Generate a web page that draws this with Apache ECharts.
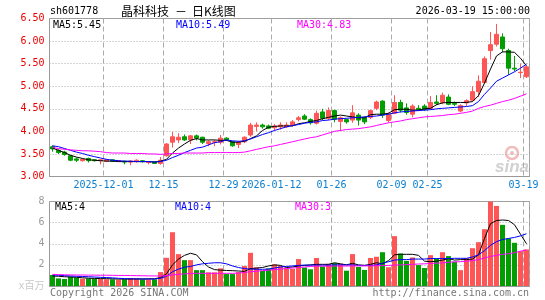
<!DOCTYPE html>
<html>
<head>
<meta charset="utf-8">
<title>晶科科技 日K线图</title>
<script src="https://cdn.jsdelivr.net/npm/echarts@6/dist/echarts.min.js"></script>
<style>
  html, body { margin: 0; padding: 0; background: #fff; }
  #chart { width: 545px; height: 300px; }
</style>
</head>
<body>
<div id="chart"></div>
<script>
// 交易日
const dates = [
  '2025-11-18', '2025-11-19', '2025-11-20', '2025-11-21', '2025-11-24', '2025-11-25', '2025-11-26', '2025-11-27', '2025-11-28',
  '2025-12-01', '2025-12-02', '2025-12-03', '2025-12-04', '2025-12-05', '2025-12-08', '2025-12-09', '2025-12-10', '2025-12-11', '2025-12-12',
  '2025-12-15', '2025-12-16', '2025-12-17', '2025-12-18', '2025-12-19', '2025-12-22', '2025-12-23', '2025-12-24', '2025-12-25', '2025-12-26',
  '2025-12-29', '2025-12-30', '2025-12-31',
  '2026-01-05', '2026-01-06', '2026-01-07', '2026-01-08', '2026-01-09',
  '2026-01-12', '2026-01-13', '2026-01-14', '2026-01-15', '2026-01-16',
  '2026-01-19', '2026-01-20', '2026-01-21', '2026-01-22', '2026-01-23',
  '2026-01-26', '2026-01-27', '2026-01-28', '2026-01-29', '2026-01-30',
  '2026-02-02', '2026-02-03', '2026-02-04', '2026-02-05', '2026-02-06',
  '2026-02-09', '2026-02-10', '2026-02-11', '2026-02-12', '2026-02-13',
  '2026-02-24', '2026-02-25', '2026-02-26', '2026-02-27',
  '2026-03-02', '2026-03-03', '2026-03-04', '2026-03-05', '2026-03-06',
  '2026-03-09', '2026-03-10', '2026-03-11', '2026-03-12', '2026-03-13',
  '2026-03-16', '2026-03-17', '2026-03-18', '2026-03-19'
]

// 日K：开盘 / 收盘 / 最低 / 最高
const openPrice = [
  3.66, 3.58, 3.54, 3.46, 3.39, 3.35, 3.40, 3.37, 3.35, 3.34,
  3.37, 3.34, 3.34, 3.32, 3.33, 3.35, 3.31, 3.32, 3.29, 3.46,
  3.76, 3.81, 3.88, 3.81, 3.90, 3.87, 3.73, 3.76, 3.76, 3.85,
  3.77, 3.71, 3.77, 3.92, 4.11, 4.14, 4.12, 4.08, 4.10, 4.10,
  4.14, 4.26, 4.34, 4.26, 4.18, 4.43, 4.29, 4.46, 4.22, 4.26,
  4.25, 4.36, 4.31, 4.31, 4.51, 4.67, 4.24, 4.40, 4.64, 4.52,
  4.38, 4.51, 4.56, 4.51, 4.65, 4.64, 4.76, 4.62, 4.45, 4.63,
  4.69, 4.88, 5.08, 5.79, 5.93, 6.09, 5.79, 5.40, 5.30, 5.21
]
const closePrice = [
  3.61, 3.53, 3.49, 3.36, 3.36, 3.38, 3.35, 3.35, 3.37, 3.37,
  3.34, 3.35, 3.32, 3.34, 3.36, 3.33, 3.33, 3.29, 3.36, 3.72,
  3.88, 3.87, 3.81, 3.90, 3.85, 3.76, 3.77, 3.77, 3.85, 3.81,
  3.68, 3.76, 3.87, 4.14, 4.14, 4.10, 4.07, 4.12, 4.14, 4.14,
  4.21, 4.30, 4.27, 4.19, 4.40, 4.29, 4.46, 4.27, 4.30, 4.21,
  4.41, 4.25, 4.21, 4.46, 4.65, 4.36, 4.38, 4.64, 4.47, 4.42,
  4.56, 4.48, 4.48, 4.64, 4.62, 4.80, 4.60, 4.60, 4.57, 4.68,
  4.88, 5.11, 5.61, 5.92, 6.15, 5.83, 5.40, 5.38, 5.31, 5.43
]
const lowPrice = [
  3.55, 3.50, 3.46, 3.34, 3.32, 3.33, 3.31, 3.33, 3.27, 3.32,
  3.32, 3.32, 3.27, 3.25, 3.31, 3.31, 3.27, 3.28, 3.26, 3.44,
  3.64, 3.74, 3.79, 3.72, 3.80, 3.72, 3.67, 3.67, 3.71, 3.79,
  3.66, 3.63, 3.74, 3.88, 4.00, 4.06, 4.05, 4.02, 4.04, 4.08,
  4.11, 4.22, 4.25, 4.15, 4.15, 4.25, 4.25, 4.20, 4.01, 4.17,
  4.19, 4.13, 4.16, 4.27, 4.47, 4.30, 4.20, 4.38, 4.42, 4.37,
  4.31, 4.45, 4.45, 4.48, 4.58, 4.60, 4.58, 4.56, 4.42, 4.56,
  4.66, 4.76, 5.06, 5.59, 5.88, 5.75, 5.25, 5.33, 5.18, 5.18
]
const highPrice = [
  3.69, 3.60, 3.57, 3.47, 3.42, 3.40, 3.42, 3.38, 3.38, 3.39,
  3.38, 3.36, 3.35, 3.36, 3.38, 3.36, 3.34, 3.33, 3.43, 3.74,
  3.99, 3.96, 3.93, 3.92, 3.93, 3.88, 3.80, 3.81, 3.92, 3.87,
  3.78, 3.79, 3.89, 4.19, 4.20, 4.17, 4.15, 4.16, 4.20, 4.20,
  4.25, 4.34, 4.38, 4.29, 4.46, 4.50, 4.53, 4.48, 4.33, 4.28,
  4.58, 4.40, 4.33, 4.48, 4.68, 4.69, 4.42, 4.80, 4.70, 4.62,
  4.60, 4.58, 4.60, 4.78, 4.80, 4.86, 4.82, 4.66, 4.60, 4.71,
  5.00, 5.24, 5.66, 6.20, 6.38, 6.17, 5.83, 5.67, 5.50, 5.45
]

// 均线（价格）
const ma5 = [
  3.63, 3.58, 3.53, 3.47, 3.43, 3.40, 3.37, 3.36, 3.35, 3.34,
  3.34, 3.33, 3.33, 3.33, 3.33, 3.33, 3.33, 3.32, 3.34, 3.38,
  3.52, 3.63, 3.72, 3.80, 3.84, 3.81, 3.81, 3.81, 3.80, 3.80,
  3.76, 3.76, 3.78, 3.84, 3.90, 4.02, 4.09, 4.11, 4.12, 4.12,
  4.12, 4.17, 4.19, 4.22, 4.24, 4.28, 4.31, 4.34, 4.36, 4.34,
  4.32, 4.30, 4.30, 4.37, 4.38, 4.38, 4.40, 4.48, 4.49, 4.49,
  4.47, 4.47, 4.50, 4.51, 4.59, 4.63, 4.64, 4.64, 4.64, 4.64,
  4.66, 4.79, 5.07, 5.38, 5.67, 5.76, 5.76, 5.75, 5.62, 5.45
]
const ma10 = [
  3.68, 3.66, 3.62, 3.58, 3.54, 3.51, 3.47, 3.44, 3.41, 3.38,
  3.36, 3.35, 3.34, 3.34, 3.33, 3.33, 3.33, 3.32, 3.33, 3.36,
  3.42, 3.47, 3.53, 3.58, 3.63, 3.65, 3.70, 3.75, 3.77, 3.81,
  3.79, 3.78, 3.79, 3.83, 3.88, 3.93, 3.97, 4.02, 4.06, 4.10,
  4.13, 4.15, 4.18, 4.20, 4.21, 4.24, 4.25, 4.27, 4.28, 4.29,
  4.30, 4.31, 4.32, 4.33, 4.34, 4.36, 4.38, 4.41, 4.43, 4.44,
  4.45, 4.46, 4.47, 4.48, 4.50, 4.51, 4.52, 4.53, 4.54, 4.55,
  4.57, 4.66, 4.82, 4.96, 5.11, 5.18, 5.25, 5.32, 5.40, 5.49
]
const ma30 = [
  3.64, 3.62, 3.60, 3.59, 3.58, 3.57, 3.57, 3.56, 3.55, 3.53,
  3.52, 3.52, 3.52, 3.51, 3.51, 3.51, 3.50, 3.50, 3.49, 3.50,
  3.51, 3.51, 3.52, 3.52, 3.52, 3.52, 3.53, 3.53, 3.53, 3.53,
  3.53, 3.53, 3.54, 3.57, 3.60, 3.63, 3.66, 3.68, 3.71, 3.74,
  3.77, 3.80, 3.83, 3.86, 3.88, 3.92, 3.96, 4.00, 4.02, 4.04,
  4.05, 4.06, 4.08, 4.10, 4.13, 4.16, 4.19, 4.21, 4.23, 4.26,
  4.28, 4.30, 4.32, 4.33, 4.34, 4.35, 4.37, 4.38, 4.40, 4.42,
  4.45, 4.51, 4.55, 4.58, 4.62, 4.66, 4.69, 4.73, 4.78, 4.83
]

// 成交量（百万股）
const volume = [
  1.04, 0.72, 0.66, 0.88, 0.79, 0.69, 0.72, 0.69, 0.66, 0.63,
  0.63, 0.60, 0.63, 0.75, 0.69, 0.63, 0.63, 0.63, 1.32, 2.67,
  5.09, 3.02, 2.45, 2.45, 1.50, 1.50, 1.29, 1.29, 1.67, 1.13,
  1.13, 1.32, 1.89, 3.14, 1.76, 1.45, 1.67, 2.04, 1.89, 1.67,
  1.62, 2.55, 1.75, 1.58, 2.65, 1.85, 2.10, 2.17, 2.10, 1.45,
  3.02, 1.80, 1.52, 2.65, 2.77, 3.20, 1.78, 4.72, 3.08, 2.38,
  2.70, 1.98, 1.70, 2.92, 2.61, 3.20, 2.83, 2.30, 1.50, 2.64,
  3.58, 4.15, 5.38, 7.99, 7.58, 5.79, 4.50, 4.09, 3.30, 3.46
]
const volMa5 = [
  0.95, 0.92, 0.88, 0.85, 0.82, 0.78, 0.74, 0.72, 0.70, 0.69,
  0.68, 0.66, 0.65, 0.66, 0.67, 0.67, 0.68, 0.69, 0.79, 1.15,
  2.00, 2.55, 2.90, 3.10, 2.95, 2.30, 1.80, 1.55, 1.50, 1.47,
  1.45, 1.42, 1.38, 1.65, 1.70, 1.75, 1.90, 2.00, 1.95, 1.75,
  1.80, 1.90, 1.95, 2.00, 2.05, 2.05, 2.05, 2.20, 2.10, 2.00,
  2.15, 2.00, 1.95, 2.05, 2.20, 2.10, 2.40, 2.95, 3.00, 3.00,
  3.00, 2.90, 2.35, 2.30, 2.35, 2.45, 2.60, 2.45, 2.50, 2.50,
  2.55, 2.95, 4.50, 5.90, 6.20, 6.25, 6.20, 5.80, 4.90, 4.00
]
const volMa10 = [
  1.05, 1.02, 0.98, 0.95, 0.92, 0.90, 0.88, 0.85, 0.82, 0.80,
  0.77, 0.73, 0.70, 0.68, 0.67, 0.66, 0.66, 0.66, 0.73, 0.92,
  1.35, 1.60, 1.78, 1.85, 2.00, 2.10, 2.15, 2.20, 2.20, 2.10,
  1.90, 1.75, 1.65, 1.60, 1.58, 1.58, 1.60, 1.70, 1.80, 1.85,
  1.90, 1.95, 1.98, 1.98, 1.98, 1.98, 1.98, 2.00, 2.00, 2.00,
  2.00, 1.95, 1.95, 1.95, 2.00, 2.15, 2.30, 2.45, 2.50, 2.50,
  2.55, 2.55, 2.55, 2.60, 2.60, 2.60, 2.60, 2.62, 2.62, 2.62,
  2.75, 2.95, 3.35, 3.85, 4.20, 4.40, 4.50, 4.60, 4.75, 4.95
]
const volMa30 = [
  1.10, 1.08, 1.06, 1.05, 1.04, 1.04, 1.03, 1.03, 1.02, 1.02,
  1.01, 1.00, 1.00, 0.99, 0.98, 0.97, 0.96, 0.95, 0.95, 0.97,
  1.05, 1.10, 1.15, 1.18, 1.20, 1.20, 1.20, 1.20, 1.20, 1.20,
  1.20, 1.22, 1.28, 1.35, 1.40, 1.45, 1.50, 1.55, 1.60, 1.65,
  1.70, 1.75, 1.80, 1.85, 1.88, 1.88, 1.88, 1.89, 1.89, 1.89,
  1.90, 1.90, 1.90, 1.91, 1.92, 1.93, 1.95, 1.98, 2.00, 2.02,
  2.05, 2.08, 2.10, 2.13, 2.16, 2.19, 2.25, 2.28, 2.30, 2.35,
  2.40, 2.50, 2.65, 2.80, 2.90, 3.00, 3.05, 3.15, 3.30, 3.40
]

// 横轴刻度
const tickDates = ['2025-12-01', '2025-12-15', '2025-12-29', '2026-01-12', '2026-01-26', '2026-02-09', '2026-02-25', '2026-03-19']
const tickLabels = ['2025-12-01', '12-15', '12-29', '2026-01-12', '01-26', '02-09', '02-25', '03-19']

const MONO = "'DejaVu Sans Mono', 'Noto Sans CJK SC', monospace"
const CJK = "'Noto Sans CJK SC', sans-serif"
const UP = '#ff5555'
const DOWN = '#009e00'
const GRID_LEFT = 49.5
const GRID_WIDTH = 480

const isTick = (index) => tickDates.includes(dates[index])

function maLine(name, data, color, xi) {
  return {
    name,
    type: 'line',
    xAxisIndex: xi,
    yAxisIndex: xi,
    data,
    showSymbol: false,
    silent: true,
    lineStyle: { color, width: 1 },
    z: 5
  }
}

function xAxisFor(gridIndex, withLabel) {
  return {
    type: 'category',
    gridIndex,
    data: dates,
    boundaryGap: true,
    axisLine: { lineStyle: { color: '#999' } },
    axisTick: { show: false },
    axisLabel: {
      show: withLabel,
      interval: isTick,
      formatter: (v) => tickLabels[tickDates.indexOf(v)],
      color: '#0a7fd0',
      fontFamily: MONO,
      fontSize: 10,
      margin: 4,
      padding: [0, 6, 0, 0]
    },
    splitLine: {
      show: true,
      interval: isTick,
      lineStyle: { color: '#aaa', type: [5, 3], width: 1 }
    }
  }
}

function text(str, x, y, fill, extra) {
  return {
    type: 'text',
    silent: true,
    style: Object.assign({
      text: str,
      x,
      y,
      fill,
      font: '10px ' + MONO,
      verticalAlign: 'middle'
    }, extra || {})
  }
}

function buildOption() {
  const candles = dates.map((d, i) => [openPrice[i], closePrice[i], lowPrice[i], highPrice[i]])
  const volBars = volume.map((v, i) => ({
    value: v,
    itemStyle: { color: closePrice[i] >= openPrice[i] ? UP : DOWN }
  }))
  const last = dates.length - 1

  return {
    animation: false,
    backgroundColor: '#fff',
    grid: [
      { left: GRID_LEFT, top: 18.5, width: GRID_WIDTH, height: 158, show: true, borderColor: '#999', borderWidth: 1 },
      { left: GRID_LEFT, top: 201.5, width: GRID_WIDTH, height: 84.5, show: true, borderColor: '#999', borderWidth: 1 }
    ],
    xAxis: [xAxisFor(0, true), xAxisFor(1, false)],
    yAxis: [
      {
        type: 'value',
        gridIndex: 0,
        min: 3,
        max: 6.5,
        interval: 0.5,
        axisLine: { show: false },
        axisTick: { show: false },
        axisLabel: {
          color: '#ee0000',
          fontFamily: MONO,
          fontSize: 10,
          margin: 5,
          formatter: (v) => v.toFixed(2)
        },
        splitLine: { lineStyle: { color: '#aaa', type: [1, 2] } }
      },
      {
        type: 'value',
        gridIndex: 1,
        min: 0,
        max: 8,
        interval: 2,
        axisLine: { show: false },
        axisTick: { show: false },
        axisLabel: {
          color: '#999',
          fontFamily: MONO,
          fontSize: 10,
          margin: 5,
          formatter: (v) => (v === 0 ? '{u|x百万}' : String(v)),
          rich: { u: { color: '#c8c8c8', fontFamily: MONO, fontSize: 10 } }
        },
        splitLine: { lineStyle: { color: '#aaa', type: [1, 2] } }
      }
    ],
    series: [
      {
        name: '日K',
        type: 'candlestick',
        xAxisIndex: 0,
        yAxisIndex: 0,
        data: candles,
        barWidth: 5,
        itemStyle: {
          color: UP,
          color0: DOWN,
          borderColor: UP,
          borderColor0: DOWN,
          borderWidth: 1
        }
      },
      maLine('MA5', ma5, '#000', 0),
      maLine('MA10', ma10, '#0000ff', 0),
      maLine('MA30', ma30, '#ff00ff', 0),
      {
        name: '成交量',
        type: 'bar',
        xAxisIndex: 1,
        yAxisIndex: 1,
        data: volBars,
        barWidth: 5
      },
      maLine('VMA5', volMa5, '#000', 1),
      maLine('VMA10', volMa10, '#0000ff', 1),
      maLine('VMA30', volMa30, '#ff00ff', 1)
    ],
    graphic: [
      text('sh601778', 50, 11, '#000'),
      text('晶科科技', 121, 11, '#000', { font: '12px ' + CJK }),
      text('－', 175, 11, '#000', { font: '12px ' + CJK }),
      text('日K线图', 192, 11, '#000', { font: '12px ' + CJK }),
      text('2026-03-19 15:00:00', 530, 11, '#000', { align: 'right' }),
      text('MA5:' + ma5[last].toFixed(2), 53, 25, '#000'),
      text('MA10:' + ma10[last].toFixed(2), 176, 25, '#0000ff'),
      text('MA30:' + ma30[last].toFixed(2), 297, 25, '#ff00ff'),
      text('MA5:' + Math.floor(volMa5[last]), 55, 207, '#000'),
      text('MA10:' + Math.floor(volMa10[last]), 175, 207, '#0000ff'),
      text('MA30:' + Math.floor(volMa30[last]), 295, 207, '#ff00ff'),
      text('Copyright 2026 SINA.COM', 50, 293, '#777'),
      text('http://finance.sina.com.cn', 529, 293, '#777', { align: 'right' }),
      // 水印
      {
        type: 'circle',
        silent: true,
        shape: { cx: 512, cy: 153, r: 6 },
        style: { fill: 'none', stroke: '#f2bcbc', lineWidth: 2.5 }
      },
      {
        type: 'circle',
        silent: true,
        shape: { cx: 512, cy: 153, r: 2 },
        style: { fill: '#f2bcbc' }
      },
      text('sina', 512, 167, '#d0d0d0', { font: 'italic bold 17px Liberation Sans', align: 'center' })
    ]
  }
}

const chart = echarts.init(document.getElementById('chart'))
chart.setOption(buildOption())
</script>
</body>
</html>
